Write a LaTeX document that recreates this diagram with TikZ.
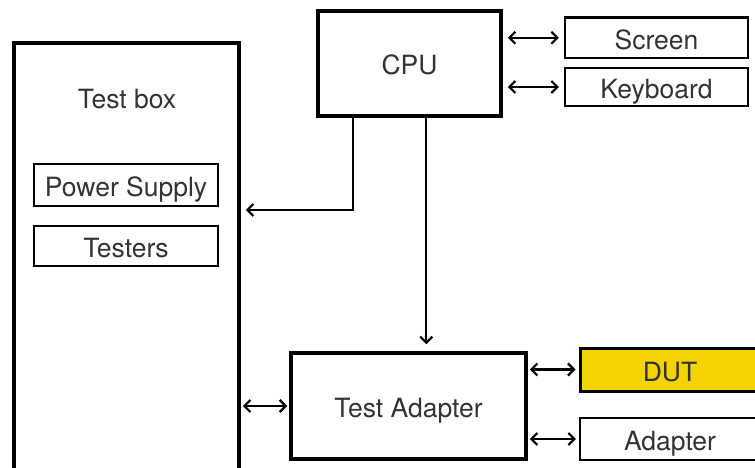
\documentclass[tikz,border=0pt]{standalone}
\usepackage{fontspec}
\setmainfont{TeX Gyre Heros}
\usetikzlibrary{calc,arrows.meta,positioning}

\definecolor{dutyellow}{HTML}{F4D400}

\begin{document}
\begin{tikzpicture}[x=1pt,y=-1pt,>={Straight Barb[length=6pt,width=12pt]}]

\tikzset{boxfont/.style={font=\fontsize{26.5}{30}\selectfont,text=black!80,text height=26.5pt,text depth=3.5pt},
bigbox/.style={boxfont,draw=black,line width=3.5pt,inner sep=0pt},
smallbox/.style={boxfont,draw=black,line width=2.2pt,inner sep=0pt},
dutbox/.style={smallbox,line width=3pt,fill=dutyellow},
biarrow/.style={<->,line width=2.2pt,shorten <=5pt,shorten >=5pt},
onearrow/.style={->,line width=2.2pt}}

\useasboundingbox (0,0) rectangle (755,468);

% Test box side
\node (testbox) [bigbox,minimum width=225pt,minimum height=440pt] at (126.5,263) {};
\node (testlabel) [boxfont] at (127,97) {Test box};
\node (psupply) [smallbox,minimum width=184pt,minimum height=42pt] at (126,185) {Power Supply};
\node (testers) [smallbox,minimum width=184pt,minimum height=40pt] at (126,246) {Testers};

% CPU and its peripherals
\node (cpu) [bigbox,minimum width=183pt,minimum height=105pt] at (409.5,63.5) {CPU};
\node (screen) [smallbox,minimum width=183pt,minimum height=40.5pt] at (656.5,37.75) {Screen};
\node (keyboard) [smallbox,minimum width=183pt,minimum height=38pt] at (656.5,87) {Keyboard};

% Test adapter and what hangs on it
\node (tadapter) [bigbox,minimum width=235pt,minimum height=106pt] at (408.5,406) {Test Adapter};
\node (dut) [dutbox,minimum width=180pt,minimum height=43pt] at (670,369.5) {DUT};
\node (adapter) [smallbox,minimum width=180pt,minimum height=42pt] at (670,439) {Adapter};

% Edges
\draw[biarrow] (cpu.east |- screen) -- (screen.west);
\draw[biarrow] (cpu.east |- keyboard) -- (keyboard.west);
\draw[biarrow,shorten <=2pt,shorten >=3pt] (tadapter.east |- dut) -- (dut.west);
\draw[biarrow,shorten <=2pt,shorten >=3pt] (tadapter.east |- adapter) -- (adapter.west);
\draw[biarrow,shorten <=2pt,shorten >=2pt] (testbox.east |- tadapter.west) -- (tadapter.west);

\coordinate (cpuleft) at ($(cpu.south west)!0.197!(cpu.south east)$);
\coordinate (cpuright) at ($(cpu.south west)!0.59!(cpu.south east)$);
\draw[onearrow,shorten >=5pt] (cpuleft) |- (testbox.east |- 0,210);
\draw[onearrow,shorten >=7pt] (cpuright) -- (cpuright |- tadapter.north);

\end{tikzpicture}
\end{document}
